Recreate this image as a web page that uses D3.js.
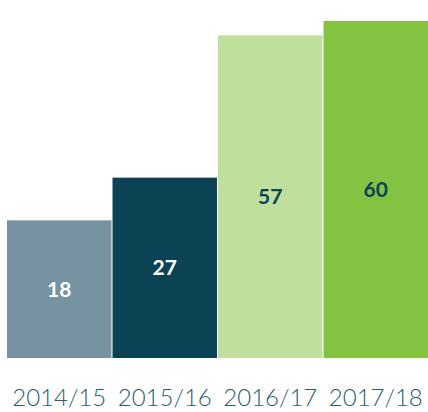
<!DOCTYPE html>
<html>
<head>
<meta charset="utf-8">
<script src="https://cdn.jsdelivr.net/npm/d3@7"></script>
<style>
  html, body { margin: 0; padding: 0; background: #fff; }
</style>
</head>
<body>
<svg id="chart" width="428" height="412"></svg>
<script>
// chart data
const years = ["2014/15", "2015/16", "2016/17", "2017/18"];
const values = [18, 27, 57, 60];
const barColors = ["#7793a1", "#0b4354", "#c0de9c", "#84c341"];
const labelColors = ["#ffffff", "#ffffff", "#0b4354", "#0b4354"];

const width = 428;
const baseline = 358;

const svg = d3.select("#chart");

const x = d3.scaleBand()
    .domain(years)
    .range([7, 428])
    .paddingInner(0.01);

// the original bars are not drawn to a zero-based scale, so fit the domain
const y = d3.scaleLinear()
    .domain([-11, 60])
    .range([baseline, 21]);

const bars = svg.selectAll("g.bar")
    .data(years)
    .enter()
    .append("g")
    .attr("class", "bar");

bars.append("rect")
    .attr("x", d => x(d))
    .attr("y", (d, i) => y(values[i]))
    .attr("width", x.bandwidth())
    .attr("height", (d, i) => baseline - y(values[i]))
    .attr("fill", (d, i) => barColors[i]);

bars.append("text")
    .attr("x", d => x(d) + x.bandwidth() / 2)
    .attr("y", (d, i) => (y(values[i]) + baseline) / 2)
    .attr("dy", "0.36em")
    .attr("text-anchor", "middle")
    .attr("font-family", "Lato, sans-serif")
    .attr("font-weight", 700)
    .attr("font-size", 21)
    .attr("fill", (d, i) => labelColors[i])
    .text((d, i) => values[i]);

// year labels under the bars
const xAxis = svg.append("g")
    .attr("transform", `translate(0,${baseline})`)
    .call(d3.axisBottom(x).tickSize(0).tickPadding(0));

xAxis.select(".domain").remove();
xAxis.selectAll("text")
    .attr("y", 48)
    .attr("dy", 0)
    .attr("font-family", "Lato, sans-serif")
    .attr("font-weight", 300)
    .attr("font-size", 24)
    .attr("fill", "#2c5b6b");
</script>
</body>
</html>
